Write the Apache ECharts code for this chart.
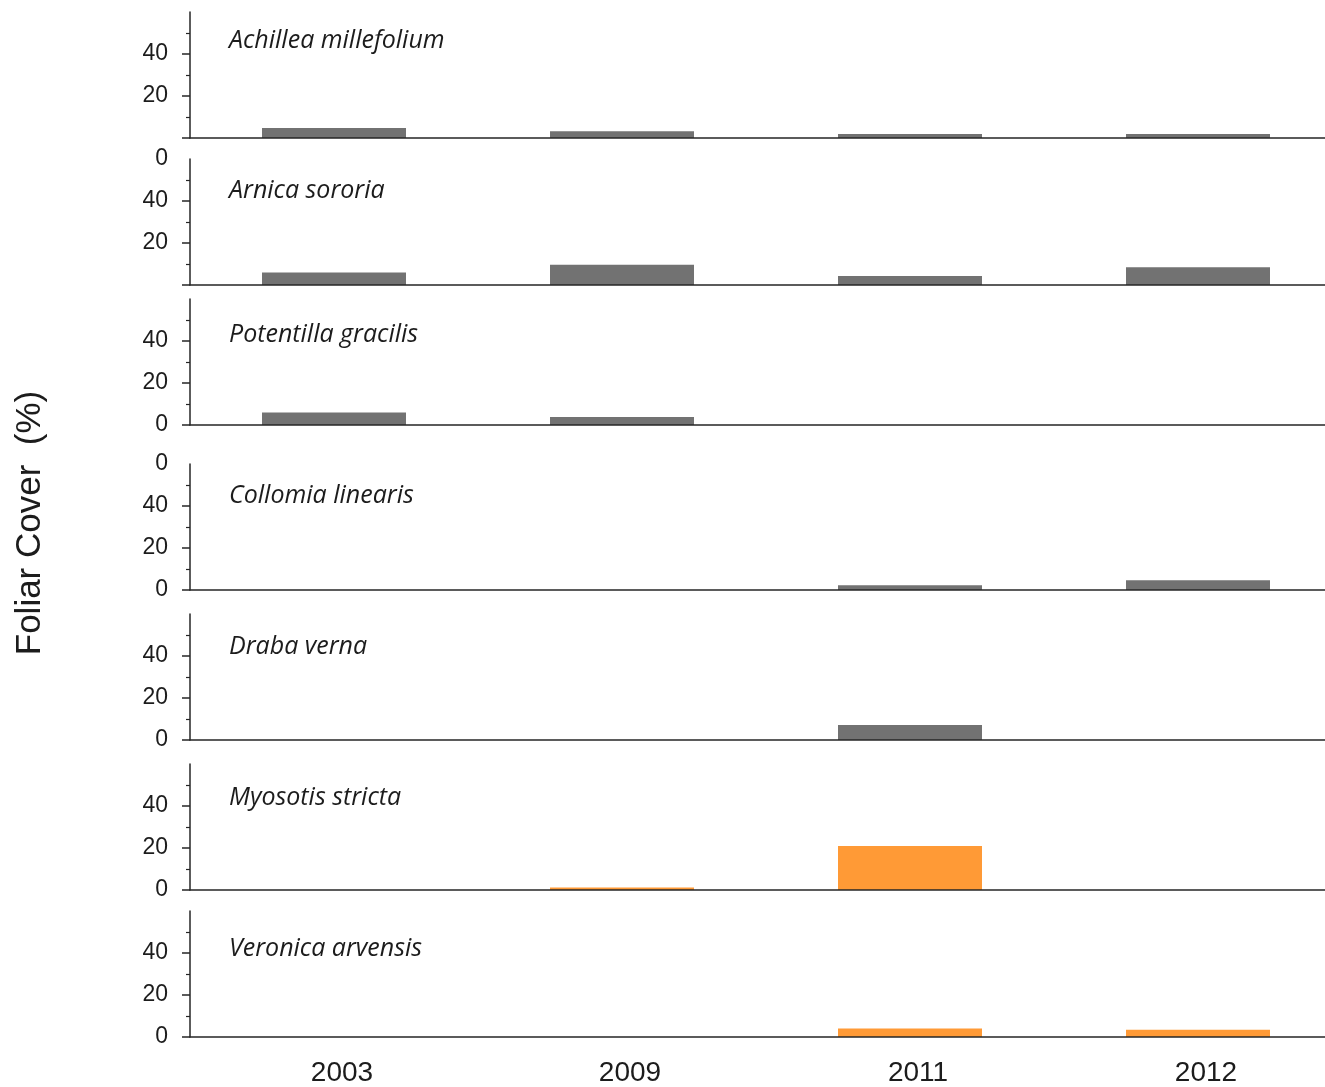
<!DOCTYPE html>
<html>
<head>
<meta charset="utf-8">
<title>Foliar Cover</title>
<script src="https://cdn.jsdelivr.net/npm/echarts@6/dist/echarts.min.js"></script>
<style>
  html, body { margin: 0; padding: 0; background: #ffffff; overflow: hidden; }
  #chart { width: 1325px; height: 1087px; }
</style>
</head>
<body>
<div id="chart"></div>
<script>
// Survey years (shared category axis)
const years = ['2003', '2009', '2011', '2012'];

// Species shown, top to bottom
const species = [
  'Achillea millefolium',
  'Arnica sororia',
  'Potentilla gracilis',
  'Collomia linearis',
  'Draba verna',
  'Myosotis stricta',
  'Veronica arvensis'
];

// Foliar cover (%) per year for each species
const achilleaCover   = [4.8, 3.2, 1.9, 1.9];
const arnicaCover     = [5.9, 9.7, 4.3, 8.4];
const potentillaCover = [6.0, 3.8, 0, 0];
const collomiaCover   = [0, 0, 2.3, 4.7];
const drabaCover      = [0, 0, 7.1, 0];
const myosotisCover   = [0, 1.2, 21.0, 0];
const veronicaCover   = [0, 0, 4.1, 3.5];

// Y tick values and the labels printed in each panel
const yTicks = [0, 20, 40];
const yLabelValues = [
  [20, 40],
  [20, 40, 60],
  [0, 20, 40],
  [0, 20, 40, 60],
  [0, 20, 40],
  [0, 20, 40],
  [0, 20, 40]
];

const coverSeries = [achilleaCover, arnicaCover, potentillaCover, collomiaCover,
                     drabaCover, myosotisCover, veronicaCover];

// native species in grey, introduced ones in orange
const barColors = ['#727272', '#727272', '#727272', '#727272', '#727272', '#ff9a36', '#ff9a36'];

// panel layout: baseline pixel row of each panel and a common plot size
const baselines = [138, 285, 425, 590, 740, 890, 1037];
const plotHeight = 126;
const plotLeft = 190;
const plotWidth = 1152;   // runs past the right edge of the page
const nameCenters = [40, 190, 334, 495, 646, 797, 948];

const AXIS_COLOR = '#262626';
const TEXT_COLOR = '#1c1c1c';

const grids = [], xAxes = [], yAxes = [], series = [], titles = [];

baselines.forEach(function (base, i) {
  const top = base - plotHeight;
  const last = i === baselines.length - 1;
  grids.push({
    left: plotLeft,
    width: plotWidth,
    top: top,
    height: plotHeight,
    containLabel: false,
    outerBoundsMode: 'none'
  });

  xAxes.push({
    type: 'category',
    gridIndex: i,
    data: years,
    axisLine: { show: true, lineStyle: { color: AXIS_COLOR, width: 1.5 } },
    axisTick: { show: false },
    axisLabel: {
      show: last,
      fontFamily: 'Liberation Sans',
      fontSize: 28,
      color: TEXT_COLOR,
      margin: 22,
      padding: [0, 0, 0, 16]
    },
    splitLine: { show: false },
    z: 3
  });

  yAxes.push({
    type: 'value',
    gridIndex: i,
    min: 0,
    max: 60,
    interval: 20,
    axisLine: { show: true, lineStyle: { color: AXIS_COLOR, width: 1.5 } },
    axisTick: {
      show: true,
      length: 8,
      customValues: yTicks,
      lineStyle: { color: AXIS_COLOR, width: 1.5 }
    },
    minorTick: {
      show: true,
      splitNumber: 2,
      length: 4,
      lineStyle: { color: AXIS_COLOR, width: 1.2 }
    },
    axisLabel: {
      show: true,
      customValues: yLabelValues[i],
      fontFamily: 'Liberation Sans',
      fontSize: 23,
      color: TEXT_COLOR,
      margin: 22,
      padding: [4, 0, 0, 0],
      // the 60 label only shows its trailing digit where panels overlap
      formatter: function (v) { return v === 60 ? '0' : String(v); }
    },
    splitLine: { show: false },
    z: 3
  });

  series.push({
    type: 'bar',
    name: species[i],
    xAxisIndex: i,
    yAxisIndex: i,
    data: coverSeries[i],
    barWidth: '50%',
    itemStyle: { color: barColors[i] },
    silent: true,
    z: 2
  });

  titles.push({
    text: species[i],
    left: 229,
    top: nameCenters[i] - 12,
    padding: 0,
    textStyle: {
      fontFamily: 'Open Sans',
      fontStyle: 'italic',
      fontWeight: 'normal',
      fontSize: 25,
      color: TEXT_COLOR
    }
  });
});

const chart = echarts.init(document.getElementById('chart'), null, { renderer: 'canvas' });
chart.setOption({
  animation: false,
  backgroundColor: '#ffffff',
  title: titles,
  grid: grids,
  xAxis: xAxes,
  yAxis: yAxes,
  series: series,
  graphic: [{
    type: 'text',
    x: 30,
    y: 523,
    rotation: Math.PI / 2,
    style: {
      text: 'Foliar Cover  (%)',
      fontFamily: 'Liberation Sans',
      fontSize: 35,
      fill: TEXT_COLOR,
      align: 'center',
      verticalAlign: 'middle'
    }
  }]
});
</script>
</body>
</html>
